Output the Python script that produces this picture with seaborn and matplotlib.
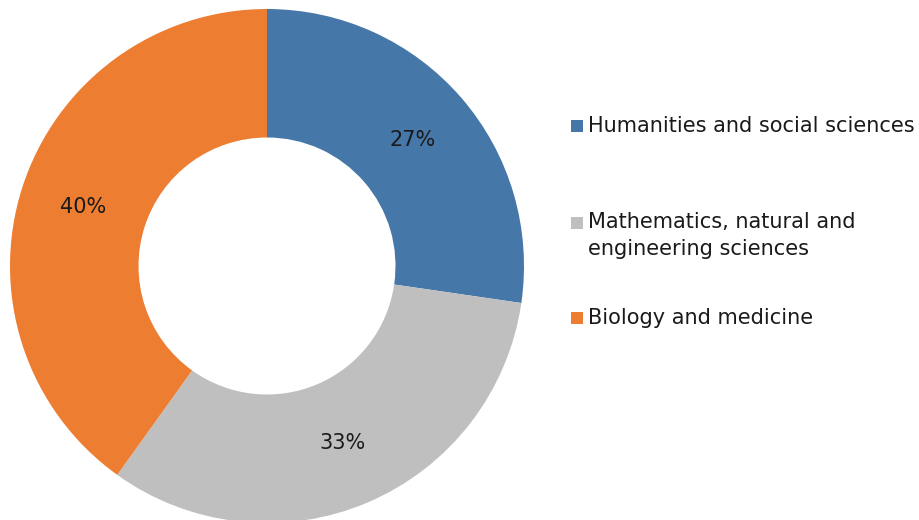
import matplotlib
matplotlib.use("Agg")
import matplotlib.pyplot as plt
import seaborn as sns
from matplotlib.patches import Rectangle

categories = ["Humanities and social sciences",
              "Mathematics, natural and\nengineering sciences",
              "Biology and medicine"]
values = [27.3, 32.6, 40.1]
colors = ["#4677A9", "#BFBFBF", "#ED7D31"]

sns.set_theme(style="white")
plt.rcParams['font.family'] = ['DejaVu Sans']

fig = plt.figure(figsize=(9.2, 5.2), dpi=100)
W, H = 920, 520
cx, cy, R = 267, 266, 257
ax = fig.add_axes([(cx - R) / W, (H - cy - R) / H, 2 * R / W, 2 * R / H])
wedges, texts, autotexts = ax.pie(
    values, colors=colors, startangle=90, counterclock=False,
    radius=1.0, autopct=lambda p: f"{int(p + 0.5)}%", pctdistance=0.75,
    wedgeprops=dict(width=0.5, edgecolor="none"),
    textprops=dict(fontsize=15, color="#1a1a1a"))
ax.set_xlim(-1, 1)
ax.set_ylim(-1, 1)
ax.set_aspect("equal")
ax.axis("off")

# legend (Excel-style: marker aligned with first line of the label)
marker_bottoms = [132, 229, 324]
text_baselines = [132, 255, 324]   # baseline of the last line of each label
for lab, col, mb, tb in zip(categories, colors, marker_bottoms, text_baselines):
    fig.add_artist(Rectangle((571 / W, (H - mb) / H), 12 / W, 12 / H,
                             transform=fig.transFigure, facecolor=col,
                             edgecolor="none"))
    fig.text(588 / W, (H - tb) / H, lab, ha="left", va="baseline",
             fontsize=15, color="#1a1a1a", linespacing=1.45)

fig.savefig("out.png", dpi=100)
